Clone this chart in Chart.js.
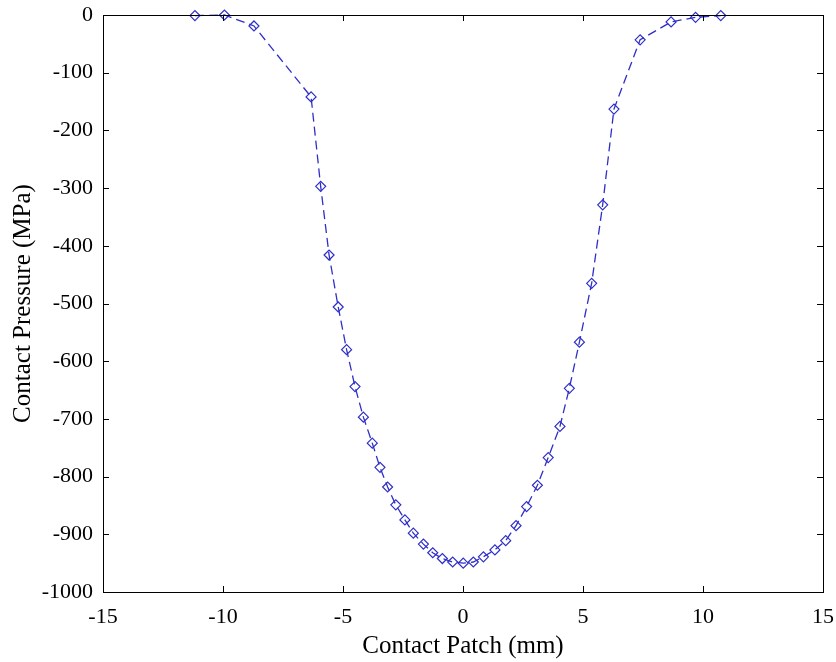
<!DOCTYPE html>
<html>
<head>
<meta charset="utf-8">
<script src="https://cdn.jsdelivr.net/npm/chart.js@4.4.1/dist/chart.umd.min.js"></script>
<style>
  html, body { margin: 0; padding: 0; background: #fff; }
  #wrap { width: 836px; height: 662px; }
</style>
</head>
<body>
<div id="wrap"><canvas id="chart" width="836" height="662"></canvas></div>
<script>
// contact patch position (mm) and contact pressure (MPa)
const patchMm = [
  -11.17, -9.94, -8.71, -6.33, -5.93, -5.58, -5.20, -4.85, -4.50, -4.15,
  -3.78, -3.46, -3.14, -2.80, -2.42, -2.07, -1.65, -1.26, -0.86, -0.43,
  0.01, 0.43, 0.85, 1.33, 1.78, 2.21, 2.65, 3.10, 3.55, 4.04,
  4.43, 4.85, 5.36, 5.82, 6.29, 7.38, 8.67, 9.69, 10.74
];
const pressureMPa = [
  -1, 0, -19, -142, -297, -416, -506, -580, -644, -697,
  -742, -784, -818, -849, -875, -898, -917, -932, -942, -948,
  -950, -948, -939, -927, -911, -885, -852, -815, -767, -713,
  -647, -567, -465, -329, -163, -43, -12, -4, -1
];
const xTicks = [-15, -10, -5, 0, 5, 10, 15];
const yTicks = [0, -100, -200, -300, -400, -500, -600, -700, -800, -900, -1000];

const points = patchMm.map((x, i) => ({ x: x, y: pressureMPa[i] }));

// MATLAB style box: top/right edges and inward tick marks
const boxPlugin = {
  id: 'matlabBox',
  afterDraw(chart) {
    const { ctx, chartArea: a, scales } = chart;
    ctx.save();
    ctx.strokeStyle = '#000';
    ctx.lineWidth = 1;
    ctx.beginPath();
    ctx.moveTo(a.left, a.top + 0.5);
    ctx.lineTo(a.right + 0.5, a.top + 0.5);
    ctx.lineTo(a.right + 0.5, a.bottom);
    const len = 6;
    xTicks.forEach(v => {
      const px = Math.round(scales.x.getPixelForValue(v)) + 0.5;
      ctx.moveTo(px, a.bottom); ctx.lineTo(px, a.bottom - len);
      ctx.moveTo(px, a.top); ctx.lineTo(px, a.top + len);
    });
    yTicks.forEach(v => {
      const py = Math.round(scales.y.getPixelForValue(v)) + 0.5;
      ctx.moveTo(a.left, py); ctx.lineTo(a.left + len, py);
      ctx.moveTo(a.right, py); ctx.lineTo(a.right - len, py);
    });
    ctx.stroke();
    ctx.restore();
  }
};

const ctx = document.getElementById('chart').getContext('2d');
new Chart(ctx, {
  type: 'scatter',
  data: {
    datasets: [{
      data: points,
      showLine: true,
      clip: false,
      borderColor: '#2f2fc8',
      borderWidth: 1.3,
      borderDash: [9, 5],
      pointStyle: 'rectRot',
      pointRadius: 5,
      pointBorderWidth: 1.2,
      pointBorderColor: '#2f2fc8',
      pointBackgroundColor: 'rgba(0,0,0,0)',
      tension: 0
    }]
  },
  options: {
    responsive: false,
    animation: false,
    layout: { padding: { top: 15, right: 13, left: 0, bottom: 0 } },
    plugins: { legend: { display: false }, tooltip: { enabled: false } },
    scales: {
      x: {
        type: 'linear',
        min: -15, max: 15,
        afterBuildTicks: s => { s.ticks = xTicks.map(v => ({ value: v })); },
        afterFit: s => { s.height = 70; s.paddingLeft = 0; s.paddingRight = 0; },
        grid: { display: false, drawTicks: false },
        border: { display: true, color: '#000', width: 1 },
        ticks: { color: '#000', padding: 12, maxRotation: 0,
                 callback: v => String(v),
                 font: { family: 'Liberation Serif', size: 22 } },
        title: { display: true, text: 'Contact Patch (mm)', color: '#000',
                 font: { family: 'Liberation Serif', size: 25 },
                 padding: { top: 0, bottom: 1 } }
      },
      y: {
        type: 'linear',
        min: -1000, max: 0,
        afterBuildTicks: s => { s.ticks = yTicks.map(v => ({ value: v })); },
        afterFit: s => { s.width = 103; s.paddingTop = 0; s.paddingBottom = 0; },
        grid: { display: false, drawTicks: false },
        border: { display: true, color: '#000', width: 1 },
        ticks: { color: '#000', padding: 10,
                 callback: v => String(v),
                 font: { family: 'Liberation Serif', size: 22 } },
        title: { display: true, text: 'Contact Pressure (MPa)', color: '#000',
                 font: { family: 'Liberation Serif', size: 25 },
                 padding: { top: 8, bottom: 0 } }
      }
    }
  },
  plugins: [boxPlugin]
});
</script>
</body>
</html>
